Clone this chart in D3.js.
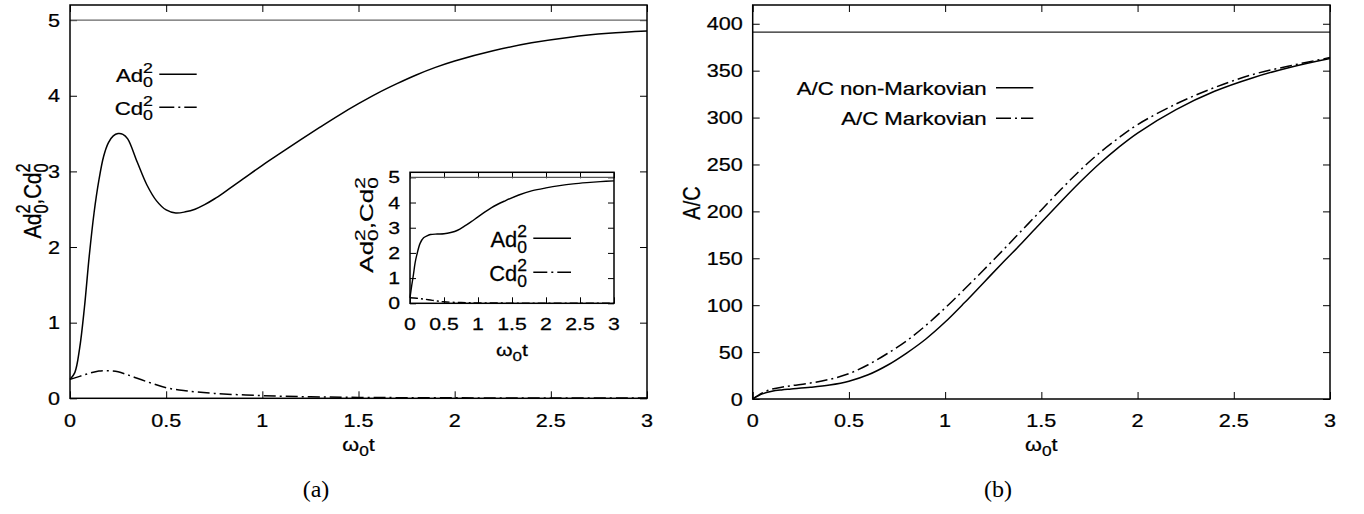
<!DOCTYPE html>
<html>
<head>
<meta charset="utf-8">
<script src="https://cdn.jsdelivr.net/npm/d3@7"></script>
<style>
  body { margin: 0; background: #fff; }
  svg text { font-family: "Liberation Sans", Arial, sans-serif; fill: #000; stroke: #000; stroke-width: 0.25px; }
  svg text.caption { font-family: "Liberation Serif", "Times New Roman", serif; stroke-width: 0; }
</style>
</head>
<body>
<svg id="chart" width="1364" height="514"></svg>
<script>
// ---- data ----
// (a) main panel
var tAd = [0, 0.025, 0.05, 0.075, 0.1, 0.125, 0.15, 0.175, 0.2, 0.225, 0.25, 0.275, 0.3, 0.35, 0.4, 0.45, 0.5, 0.55, 0.6, 0.65, 0.7, 0.75, 0.8, 0.9, 1.0, 1.1, 1.2, 1.3, 1.4, 1.5, 1.6, 1.7, 1.8, 1.9, 2.0, 2.2, 2.4, 2.6, 2.8, 3.0];
var ad2 = [0.25, 0.34, 0.66, 1.2, 1.88, 2.45, 2.88, 3.2, 3.38, 3.47, 3.50, 3.49, 3.43, 3.12, 2.82, 2.61, 2.49, 2.45, 2.465, 2.50, 2.56, 2.635, 2.72, 2.90, 3.08, 3.25, 3.42, 3.585, 3.745, 3.895, 4.035, 4.16, 4.275, 4.375, 4.46, 4.595, 4.70, 4.775, 4.825, 4.855];
var tCd = [0, 0.05, 0.1, 0.15, 0.2, 0.25, 0.3, 0.4, 0.5, 0.6, 0.75, 1.0, 1.25, 1.5, 2.0, 2.5, 3.0];
var cd2 = [0.25, 0.29, 0.33, 0.36, 0.365, 0.35, 0.31, 0.22, 0.14, 0.10, 0.065, 0.035, 0.02, 0.012, 0.006, 0.004, 0.003];
var limitA = 5;

// (a) inset
var tAdIn = [0, 0.025, 0.05, 0.075, 0.1, 0.15, 0.2, 0.25, 0.3, 0.4, 0.5, 0.6, 0.7, 0.8, 0.9, 1.0, 1.2, 1.4, 1.6, 1.8, 2.0, 2.2, 2.4, 2.6, 2.8, 3.0];
var ad2In = [0.22, 0.7, 1.13, 1.6, 1.92, 2.39, 2.6, 2.68, 2.73, 2.75, 2.76, 2.81, 2.9, 3.06, 3.24, 3.43, 3.8, 4.07, 4.3, 4.47, 4.58, 4.67, 4.74, 4.79, 4.83, 4.86];
var tCdIn = [0, 0.1, 0.2, 0.3, 0.4, 0.5, 0.75, 1.0, 1.5, 2.0, 3.0];
var cd2In = [0.22, 0.2, 0.17, 0.13, 0.09, 0.06, 0.03, 0.015, 0.008, 0.005, 0.003];

// (b)
var tAC = [0, 0.05, 0.1, 0.15, 0.2, 0.3, 0.4, 0.5, 0.6, 0.7, 0.8, 0.9, 1.0, 1.1, 1.2, 1.3, 1.4, 1.5, 1.6, 1.7, 1.8, 1.9, 2.0, 2.2, 2.4, 2.6, 2.8, 3.0];
var acNonMarkov = [0, 5.5, 8.3, 9.7, 10.6, 12.4, 14.9, 19, 25.8, 36, 49, 64, 82, 102.5, 124, 145.5, 166.5, 188.5, 210, 231, 250.5, 268, 283.5, 308.5, 328, 342.5, 354, 363];
var acMarkov = [0, 6.5, 10.5, 12.5, 14.2, 17, 21, 27, 36.5, 48.5, 62, 78.5, 97, 117, 137.5, 158.5, 180, 201.5, 223, 243.5, 262, 278, 292.5, 314.5, 332, 346, 355.5, 364];
var limitAC = 391;

var xTicks = [0, 0.5, 1, 1.5, 2, 2.5, 3];
var yTicksA = [0, 1, 2, 3, 4, 5];
var yTicksB = [0, 50, 100, 150, 200, 250, 300, 350, 400];

var svg = d3.select("#chart");
var SX = 1.2;   // the figure text is stretched horizontally

// plain text, optionally stretched / rotated
function stext(parent, x, y, str, o) {
  o = o || {};
  var g = parent.append("g")
    .attr("transform", "translate(" + x + "," + y + ") scale(" + (o.sx || SX) + ",1)" + (o.rot ? " rotate(-90)" : ""));
  g.append("text")
    .attr("text-anchor", o.anchor || "middle")
    .style("font-size", (o.size || 18) + "px")
    .text(str);
  return g;
}

// text with stacked sub/superscripts: segs = [[base, sub, sup], ...]
function rich(parent, x, y, segs, o) {
  o = o || {};
  var size = o.size || 18, small = size * 0.8;
  var g = parent.append("g")
    .attr("transform", "translate(" + x + "," + y + ") scale(" + (o.sx || SX) + ",1)" + (o.rot ? " rotate(-90)" : ""));
  var inner = g.append("g");
  var cx = 0;
  segs.forEach(function(s) {
    var t = inner.append("text").attr("x", cx).style("font-size", size + "px").text(s[0]);
    cx += t.node().getComputedTextLength();
    var w = 0;
    if (s[1] != null) {
      var u = inner.append("text").attr("x", cx).attr("y", size * 0.3).style("font-size", small + "px").text(s[1]);
      w = Math.max(w, u.node().getComputedTextLength());
    }
    if (s[2] != null) {
      var v = inner.append("text").attr("x", cx).attr("y", -size * 0.45).style("font-size", small + "px").text(s[2]);
      w = Math.max(w, v.node().getComputedTextLength());
    }
    cx += w;
  });
  var off = o.anchor === "end" ? -cx : (o.anchor === "start" ? 0 : -cx / 2);
  inner.attr("transform", "translate(" + off + ",0)");
  return g;
}

function frame(g, x, y, xt, yt, tick) {
  var x0 = x.range()[0], x1 = x.range()[1], y0 = y.range()[0], y1 = y.range()[1];
  g.append("rect").attr("x", x0).attr("y", y1).attr("width", x1 - x0).attr("height", y0 - y1)
    .attr("fill", "#fff");
  var axes = [
    [d3.axisBottom(x).tickValues(xt), "translate(0," + y0 + ")"],
    [d3.axisTop(x).tickValues(xt), "translate(0," + y1 + ")"],
    [d3.axisLeft(y).tickValues(yt), "translate(" + x0 + ",0)"],
    [d3.axisRight(y).tickValues(yt), "translate(" + x1 + ",0)"]
  ];
  axes.forEach(function(a) {
    var ag = g.append("g").attr("transform", a[1])
      .call(a[0].tickSize(-tick).tickFormat(""));
    ag.select(".domain").remove();
    ag.selectAll(".tick line").attr("stroke", "#000").attr("stroke-width", 1);
  });
}

function border(g, x, y) {
  var x0 = x.range()[0], x1 = x.range()[1], y0 = y.range()[0], y1 = y.range()[1];
  g.append("rect").attr("x", x0).attr("y", y1).attr("width", x1 - x0).attr("height", y0 - y1)
    .attr("fill", "none").attr("stroke", "#000").attr("stroke-width", 1.5);
}

function curve(g, x, y, ts, vs, dash, w) {
  var line = d3.line()
    .x(function(d) { return x(d[0]); })
    .y(function(d) { return y(d[1]); })
    .curve(d3.curveCatmullRom.alpha(0.5));
  g.append("path")
    .datum(d3.zip(ts, vs))
    .attr("d", line)
    .attr("fill", "none")
    .attr("stroke", "#000")
    .attr("stroke-width", w || 1.5)
    .attr("stroke-dasharray", dash || null);
}

function hline(g, x, y, val, col) {
  g.append("line")
    .attr("x1", x.range()[0]).attr("x2", x.range()[1])
    .attr("y1", y(val)).attr("y2", y(val))
    .attr("stroke", col).attr("stroke-width", 1.2);
}

function tickLabels(g, x, y, xt, yt, o) {
  var fmt = function(d) { return String(d); };
  xt.forEach(function(d) {
    stext(g, x(d), o.xBase, fmt(d), { size: o.size, sx: o.sx });
  });
  yt.forEach(function(d) {
    stext(g, x.range()[0] - o.yGap, y(d) + o.yOff, fmt(d), { size: o.size, sx: o.sx, anchor: "end" });
  });
}

var DASHDOT = "12,4,2,4";
var omega = [["\u03c9", "0", null], ["t", null, null]];
var adcd = [["Ad", "0", "2"], [",Cd", "0", "2"]];

// ===== panel (a) =====
var xL = d3.scaleLinear().domain([0, 3]).range([70, 647]);
var yL = d3.scaleLinear().domain([0, 5.2]).range([398.3, 5]);
var gA = svg.append("g");
frame(gA, xL, yL, xTicks, yTicksA, 7);
hline(gA, xL, yL, limitA, "#666");
curve(gA, xL, yL, tAd, ad2);
curve(gA, xL, yL, tCd, cd2, DASHDOT);
border(gA, xL, yL);
tickLabels(gA, xL, yL, xTicks, yTicksA, { xBase: 426.7, yGap: 10, yOff: 6.5, size: 18 });
rich(gA, xL(1.5), 451, omega, { size: 18 });
rich(gA, 41, 201, adcd, { size: 20.5, rot: true });

// legend (a)
rich(gA, 153, 81.5, [["Ad", "0", "2"]], { size: 18.5, anchor: "end" });
rich(gA, 153, 114.5, [["Cd", "0", "2"]], { size: 18.5, anchor: "end" });
gA.append("line").attr("x1", 159.3).attr("x2", 196.7).attr("y1", 74.3).attr("y2", 74.3)
  .attr("stroke", "#000").attr("stroke-width", 1.5);
gA.append("line").attr("x1", 159.3).attr("x2", 196.7).attr("y1", 107.3).attr("y2", 107.3)
  .attr("stroke", "#000").attr("stroke-width", 1.5).attr("stroke-dasharray", "15,4,2,4");

// inset
var xI = d3.scaleLinear().domain([0, 3]).range([410, 614]);
var yI = d3.scaleLinear().domain([0, 5.2]).range([303.3, 172.3]);
var gI = svg.append("g");
frame(gI, xI, yI, xTicks, yTicksA, 6);
hline(gI, xI, yI, limitA, "#555");
curve(gI, xI, yI, tAdIn, ad2In, null, 1.4);
curve(gI, xI, yI, tCdIn, cd2In, "8,3,2,3", 1.4);
border(gI, xI, yI);
tickLabels(gI, xI, yI, xTicks, yTicksA, { xBase: 330, yGap: 10, yOff: 6, size: 17, sx: 1.25 });
rich(gI, (410 + 614) / 2, 356, omega, { size: 17, sx: 1.25 });
rich(gI, 373, 225, adcd, { size: 26, sx: 0.7, rot: true });
rich(gI, 527, 246.5, [["Ad", "0", "2"]], { size: 21.5, sx: 1.02, anchor: "end" });
rich(gI, 527, 280.5, [["Cd", "0", "2"]], { size: 21.5, sx: 1.02, anchor: "end" });
gI.append("line").attr("x1", 533.3).attr("x2", 571).attr("y1", 238.3).attr("y2", 238.3)
  .attr("stroke", "#000").attr("stroke-width", 1.4);
gI.append("line").attr("x1", 533.3).attr("x2", 571).attr("y1", 272.3).attr("y2", 272.3)
  .attr("stroke", "#000").attr("stroke-width", 1.4).attr("stroke-dasharray", "14,4,2,4");

svg.append("text").attr("class", "caption").attr("x", 316).attr("y", 497)
  .attr("text-anchor", "middle").style("font-size", "24px").text("(a)");

// ===== panel (b) =====
var xR = d3.scaleLinear().domain([0, 3]).range([752.7, 1330]);
var yR = d3.scaleLinear().domain([0, 420]).range([399, 5]);
var gB = svg.append("g");
frame(gB, xR, yR, xTicks, yTicksB, 7);
hline(gB, xR, yR, limitAC, "#222");
curve(gB, xR, yR, tAC, acNonMarkov);
curve(gB, xR, yR, tAC, acMarkov, DASHDOT);
border(gB, xR, yR);
tickLabels(gB, xR, yR, xTicks, yTicksB, { xBase: 426.7, yGap: 10, yOff: 6.5, size: 18 });
rich(gB, xR(1.5), 451, omega, { size: 18 });
stext(gB, 700, 203, "A/C", { size: 20, rot: true });

stext(gB, 986.7, 94.5, "A/C non-Markovian", { size: 18.5, anchor: "end" });
stext(gB, 986.7, 125, "A/C Markovian", { size: 18.5, anchor: "end" });
gB.append("line").attr("x1", 996).attr("x2", 1033.3).attr("y1", 87.7).attr("y2", 87.7)
  .attr("stroke", "#000").attr("stroke-width", 1.5);
gB.append("line").attr("x1", 996).attr("x2", 1033.3).attr("y1", 118.3).attr("y2", 118.3)
  .attr("stroke", "#000").attr("stroke-width", 1.5).attr("stroke-dasharray", "15,4,2,4");

svg.append("text").attr("class", "caption").attr("x", 998).attr("y", 497)
  .attr("text-anchor", "middle").style("font-size", "24px").text("(b)");
</script>
</body>
</html>
